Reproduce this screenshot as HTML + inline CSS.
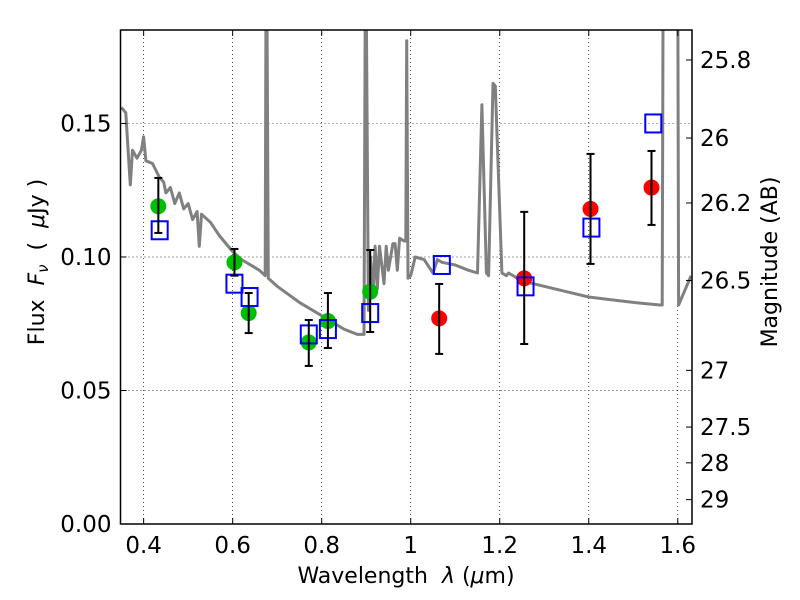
<!DOCTYPE html>
<html><head><meta charset="utf-8"><style>
body{margin:0;background:#fff;}
svg{display:block;font-family:"DejaVu Sans","Liberation Sans",sans-serif;}
.pre{white-space:pre;}
</style></head><body>
<svg id="chart" width="800" height="600" xmlns="http://www.w3.org/2000/svg"></svg>
<script>
const xTicks=[0.4,0.6,0.8,1.0,1.2,1.4,1.6];
const xTickLabels=["0.4","0.6","0.8","1","1.2","1.4","1.6"];
const yTicks=[0,0.05,0.10,0.15];
const yTickLabels=["0.00","0.05","0.10","0.15"];
const magTicks=[25.8,26,26.2,26.5,27,27.5,28,29];
const magTickLabels=["25.8","26","26.2","26.5","27","27.5","28","29"];
const obsWave=[0.433,0.604,0.636,0.771,0.814,0.909,1.064,1.255,1.404,1.541];
const obsFlux=[0.119,0.098,0.079,0.068,0.076,0.087,0.077,0.092,0.118,0.126];
const obsErrHi=[0.1296,0.103,0.0865,0.0764,0.0865,0.1026,0.0899,0.1169,0.1386,0.1397];
const obsErrLo=[0.109,0.093,0.0715,0.0592,0.0659,0.0719,0.0637,0.0674,0.0974,0.112];
const obsColor=["#00bf00","#00bf00","#00bf00","#00bf00","#00bf00","#00bf00","#ff0000","#ff0000","#ff0000","#ff0000"];
const modelWave=[0.436,0.604,0.638,0.771,0.814,0.909,1.07,1.258,1.406,1.545];
const modelFlux=[0.110,0.090,0.085,0.071,0.073,0.079,0.097,0.089,0.111,0.150];
const specWave=[0.35,0.36,0.365,0.37,0.375,0.385,0.395,0.40,0.405,0.42,0.435,0.445,0.45,0.46,0.47,0.48,0.49,0.50,0.51,0.52,0.525,0.53,0.55,0.57,0.60,0.62,0.66,0.673,0.675,0.677,0.68,0.70,0.75,0.80,0.85,0.88,0.895,0.898,0.900,0.905,0.91,0.915,0.92,0.925,0.93,0.94,0.945,0.95,0.96,0.965,0.97,0.975,0.985,0.989,0.991,0.994,1.0,1.01,1.03,1.05,1.06,1.07,1.10,1.13,1.15,1.16,1.17,1.175,1.185,1.19,1.205,1.215,1.22,1.25,1.3,1.35,1.40,1.45,1.5,1.56,1.565,1.567,1.600,1.602,1.63];
const specFlux=[0.156,0.154,0.14,0.127,0.14,0.137,0.14,0.145,0.136,0.135,0.13,0.128,0.124,0.126,0.12,0.124,0.118,0.12,0.114,0.117,0.104,0.116,0.113,0.108,0.102,0.099,0.095,0.093,0.2,0.2,0.092,0.089,0.083,0.078,0.073,0.071,0.071,0.2,0.2,0.08,0.1,0.085,0.104,0.088,0.104,0.09,0.104,0.095,0.105,0.105,0.095,0.107,0.106,0.106,0.181,0.092,0.093,0.1,0.099,0.094,0.099,0.098,0.097,0.095,0.094,0.157,0.094,0.093,0.165,0.164,0.094,0.093,0.094,0.091,0.089,0.087,0.085,0.084,0.083,0.082,0.082,0.2,0.2,0.082,0.093];

const L=120.5,R=692,T=30,B=524,XMIN=0.348,XMAX=1.632,YMAX=0.185;
const sx=v=>L+(v-XMIN)/(XMAX-XMIN)*(R-L);
const sy=v=>B-v/YMAX*(B-T);
const magToFlux=m=>Math.pow(10,(23.9-m)/2.5);
const NS="http://www.w3.org/2000/svg";
const svg=document.getElementById('chart');
function mk(tag,attrs,parent){const e=document.createElementNS(NS,tag);for(const k in attrs)e.setAttribute(k,attrs[k]);(parent||svg).appendChild(e);return e;}

const defs=mk('defs',{});
const cp=mk('clipPath',{id:'clip'},defs);
mk('rect',{x:L,y:T,width:R-L,height:B-T},cp);

const grid=mk('g',{});


xTicks.forEach(v=>{mk('line',{x1:sx(v),x2:sx(v),y1:T,y2:B,stroke:'#000','stroke-width':0.7,'stroke-dasharray':'1,3'},grid);});
yTicks.forEach(v=>{if(v>0)mk('line',{x1:L,x2:R,y1:sy(v),y2:sy(v),stroke:'#000','stroke-width':0.7,'stroke-dasharray':'1,3'},grid);});

let d='';specWave.forEach((w,i)=>{d+=(i?'L':'M')+sx(w).toFixed(1)+','+sy(specFlux[i]).toFixed(1);});
const spec=mk('path',{d:d,fill:'none',stroke:'#808080','stroke-width':3,'clip-path':'url(#clip)','stroke-linejoin':'round'});



const obs=mk('g',{});


obsWave.forEach((w,i)=>{
  const c=mk('circle',{cx:sx(w),cy:sy(obsFlux[i]),r:8,fill:obsColor[i]},obs);
  
  
});
const mod=mk('g',{});


modelWave.forEach((w,i)=>{
  const s=mk('rect',{x:sx(w)-8,y:sy(modelFlux[i])-9,width:16,height:18,fill:'none',stroke:'#0000ff','stroke-width':2},mod);
  
  
});
const eb=mk('g',{stroke:'#000','stroke-width':2});


obsWave.forEach((w,i)=>{
  const x=sx(w),y1=sy(obsErrHi[i]),y2=sy(obsErrLo[i]);
  mk('line',{x1:x,x2:x,y1:y1,y2:y2},eb);
  mk('line',{x1:x-4,x2:x+4,y1:y1,y2:y1},eb);
  mk('line',{x1:x-4,x2:x+4,y1:y2,y2:y2},eb);
});

const fr=mk('rect',{x:L,y:T,width:R-L,height:B-T,fill:'none',stroke:'#000','stroke-width':1.5});



const xa=mk('g',{'font-size':23,'text-anchor':'middle'});


xTicks.forEach((v,i)=>{
  mk('line',{x1:sx(v),x2:sx(v),y1:B,y2:B-6,stroke:'#000'},xa);
  mk('line',{x1:sx(v),x2:sx(v),y1:T,y2:T+6,stroke:'#000'},xa);
  const t=mk('text',{x:sx(v),y:B+29},xa);t.textContent=xTickLabels[i];
});
const ya=mk('g',{'font-size':23,'text-anchor':'end'});


yTicks.forEach((v,i)=>{
  mk('line',{x1:L,x2:L+6,y1:sy(v),y2:sy(v),stroke:'#000'},ya);
  const t=mk('text',{x:L-9,y:sy(v)+8},ya);t.textContent=yTickLabels[i];
});
const ma=mk('g',{'font-size':23,'text-anchor':'start'});


magTicks.forEach((m,i)=>{
  const y=sy(magToFlux(m));
  mk('line',{x1:R,x2:R-6,y1:y,y2:y,stroke:'#000'},ma);
  const t=mk('text',{x:R+8,y:y+8},ma);t.textContent=magTickLabels[i];
});
</script>
<svg style="position:absolute;left:0;top:0" width="800" height="600" xmlns="http://www.w3.org/2000/svg" font-family="DejaVu Sans, Liberation Sans, sans-serif" font-size="22">
<text class="pre" x="406" y="583" text-anchor="middle">Wavelength  <tspan font-style="italic">λ</tspan> (<tspan font-style="italic">μ</tspan>m)</text>
<text class="pre" transform="translate(44,262) rotate(-90)" text-anchor="middle">Flux  <tspan font-style="italic">F</tspan><tspan font-style="italic" font-size="15" dy="4">ν</tspan><tspan dy="-4">  (  </tspan><tspan font-style="italic">μ</tspan>Jy )</text>
<text transform="translate(777,262) rotate(-90)" text-anchor="middle">Magnitude (AB)</text>
</svg>
</body></html>
